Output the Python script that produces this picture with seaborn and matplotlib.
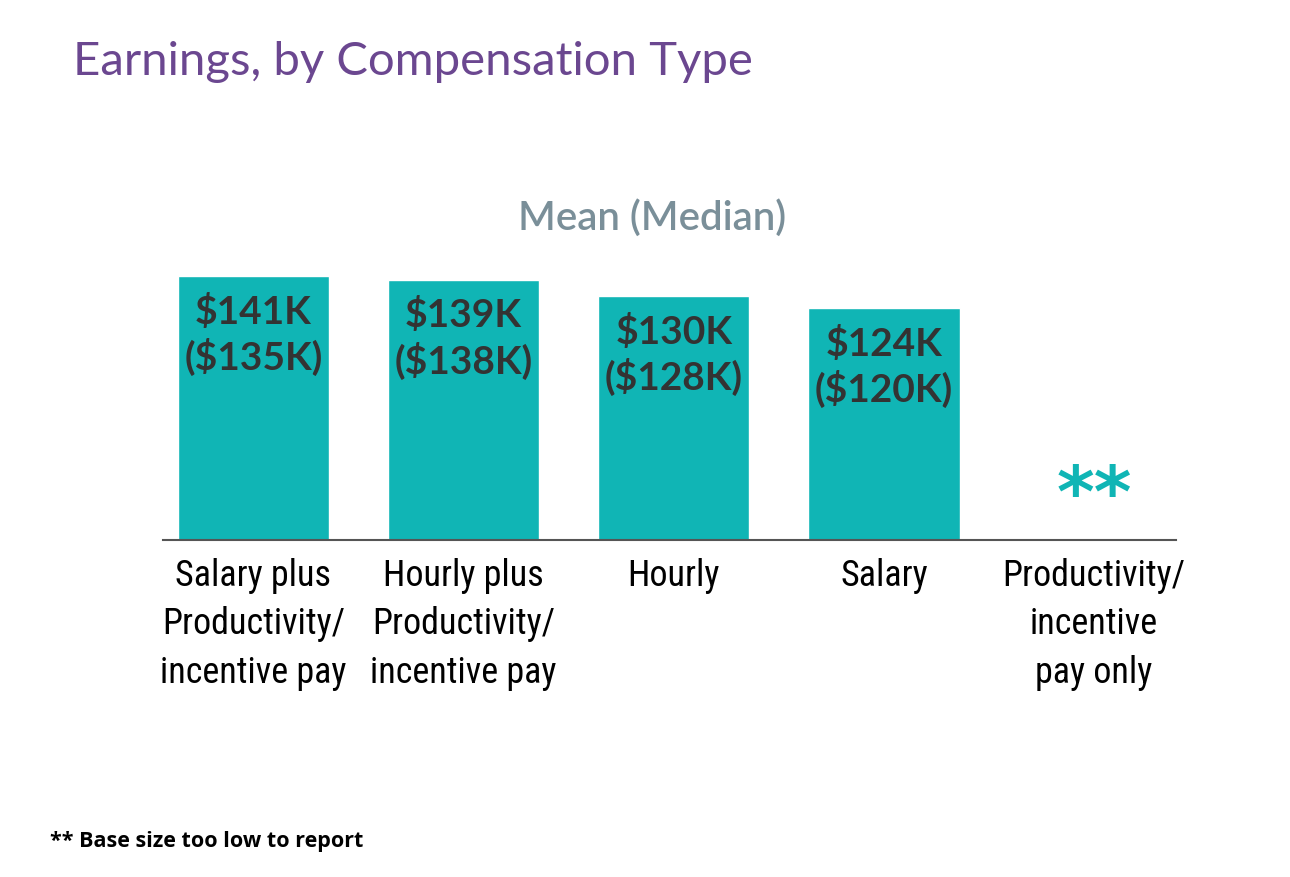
import numpy as np
import pandas as pd
import seaborn as sns
import matplotlib.pyplot as plt
from matplotlib import font_manager

# data
categories = [
    "Salary plus\nProductivity/\nincentive pay",
    "Hourly plus\nProductivity/\nincentive pay",
    "Hourly",
    "Salary",
    "Productivity/\nincentive\npay only",
]
mean_k = [141, 139, 130, 124, np.nan]
median_k = [135, 138, 128, 120, np.nan]

TEAL = "#10b5b5"
PURPLE = "#6b4790"
GREY = "#7a8f99"
DARK = "#333333"

sns.set_theme(style="white")
plt.rcParams["font.family"] = ["Lato", "DejaVu Sans"]

# condensed font for the category labels if there is one
names = {f.name for f in font_manager.fontManager.ttflist}
cond = "Roboto"
for cand in ["Roboto Condensed", "Liberation Sans Narrow"]:
    if cand in names:
        cond = cand
        break

df = pd.DataFrame({"cat": categories, "mean": mean_k, "median": median_k})

fig = plt.figure(figsize=(12.9, 8.78), dpi=100)
ax = fig.add_axes([0.1264, 0.3838, 0.7852, 0.3201])

sns.barplot(data=df, x="cat", y="mean", color=TEAL, saturation=1,
            width=0.72, ax=ax)

# value labels inside bars, "**" where the base is too small
for i, (m, md) in enumerate(zip(mean_k, median_k)):
    if np.isnan(m):
        ax.text(i, 23, "**", ha="center", va="center", fontsize=52,
                fontweight="heavy", color=TEAL, family=["DejaVu Sans"])
        continue
    ax.text(i, m - 9, f"${m:.0f}K\n(${md:.0f}K)", ha="center", va="top",
            fontsize=28, fontweight="bold", color=DARK, linespacing=1.25)

ax.set_xlim(-0.43, 4.39)
ax.set_ylim(0, 150)
ax.set_xlabel("")
ax.set_ylabel("")
ax.set_yticks([])
for side in ["top", "right", "left"]:
    ax.spines[side].set_visible(False)
ax.spines["bottom"].set_color("#555555")
ax.spines["bottom"].set_linewidth(1.5)
ax.tick_params(axis="x", length=0, pad=12)
for lbl in ax.get_xticklabels():
    lbl.set_fontfamily(cond)
    lbl.set_fontsize(26)
    lbl.set_color("black")
    lbl.set_linespacing(1.45)
    lbl.set_verticalalignment("top")

fig.text(73 / 1290, 1 - 62 / 878, "Earnings, by Compensation Type",
         fontsize=34, color=PURPLE, va="center", ha="left")
fig.text(652 / 1290, 1 - 218 / 878, "Mean (Median)", fontsize=29,
         color=GREY, fontweight="semibold", ha="center", va="center")
fig.text(50 / 1290, 1 - 842 / 878, "** Base size too low to report",
         fontsize=15.5, fontweight="bold", color="black", ha="left",
         va="center", family=["Open Sans", "DejaVu Sans"])

fig.savefig("out.png", dpi=100, facecolor="white")
